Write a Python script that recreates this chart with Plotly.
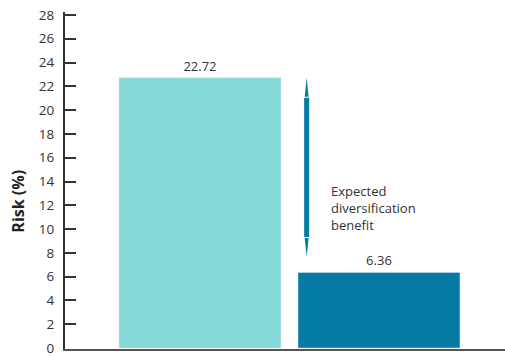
import plotly.graph_objects as go

categories = [0, 1]
values = [22.72, 6.36]
bar_colors = ["#84D8D6", "#047AA5"]
y_ticks = list(range(0, 29, 2))
y_title = "<b>Risk (%)</b>"
annotation_text = "Expected<br>diversification<br>benefit"

arrow_x = 0.596
arrow_top = values[0]
arrow_bottom = values[1] + 1.3
half_w = 0.014
head_w = 0.011
head = 1.6
gap = 0.08

fig = go.Figure()
fig.add_trace(go.Bar(
    x=categories, y=values, marker_color=bar_colors, width=0.905,
    text=[f"{v:.2f}" for v in values], textposition="outside",
    textfont=dict(size=13, color="#333333", family="Open Sans"),
    cliponaxis=False,
))

# shaft
fig.add_shape(type="rect", xref="x", yref="y",
              x0=arrow_x - half_w, x1=arrow_x + half_w,
              y0=arrow_bottom + head + gap, y1=arrow_top - head - gap,
              fillcolor=bar_colors[1], line=dict(width=0))
# heads
top_path = (f"M {arrow_x} {arrow_top} L {arrow_x+head_w} {arrow_top-head} "
            f"L {arrow_x-head_w} {arrow_top-head} Z")
bot_path = (f"M {arrow_x} {arrow_bottom} L {arrow_x+head_w} {arrow_bottom+head} "
            f"L {arrow_x-head_w} {arrow_bottom+head} Z")
for p in (top_path, bot_path):
    fig.add_shape(type="path", path=p, xref="x", yref="y",
                  fillcolor=bar_colors[1], line=dict(width=0))

fig.add_annotation(x=0.72, y=11.8, xref="x", yref="y", text=annotation_text,
                   showarrow=False, xanchor="left", yanchor="middle", align="left",
                   font=dict(size=13, color="#333333", family="Open Sans"))

# y-axis title (placed slightly below the plot centre, as in the reference)
fig.add_annotation(x=-0.107, y=0.44, xref="paper", yref="paper", text=y_title,
                   showarrow=False, textangle=-90, xanchor="center", yanchor="middle",
                   font=dict(size=16, color="#222222", family="Open Sans"))

fig.update_layout(
    width=505, height=356,
    margin=dict(l=65, r=0, t=12, b=7),
    plot_bgcolor="white", paper_bgcolor="white",
    showlegend=False,
    font=dict(family="Open Sans", color="#333333"),
)
fig.update_xaxes(range=[-0.754, 1.704], showticklabels=False, ticks="",
                 showline=True, linecolor="#555555", linewidth=2,
                 showgrid=False, zeroline=False, automargin=False)
fig.update_yaxes(range=[-0.08, 28.25], tickvals=y_ticks, ticks="inside", ticklen=11,
                 tickcolor="#333333", tickwidth=1.5,
                 showline=True, linecolor="#333333", linewidth=2,
                 showgrid=False, zeroline=False, automargin=False,
                 ticklabelstandoff=6, ticklabeloverflow="allow",
                 tickfont=dict(size=13.5, color="#333333"))

fig.write_html("out.html", config={"displayModeBar": False},
               post_script="document.body.style.margin='0';")
